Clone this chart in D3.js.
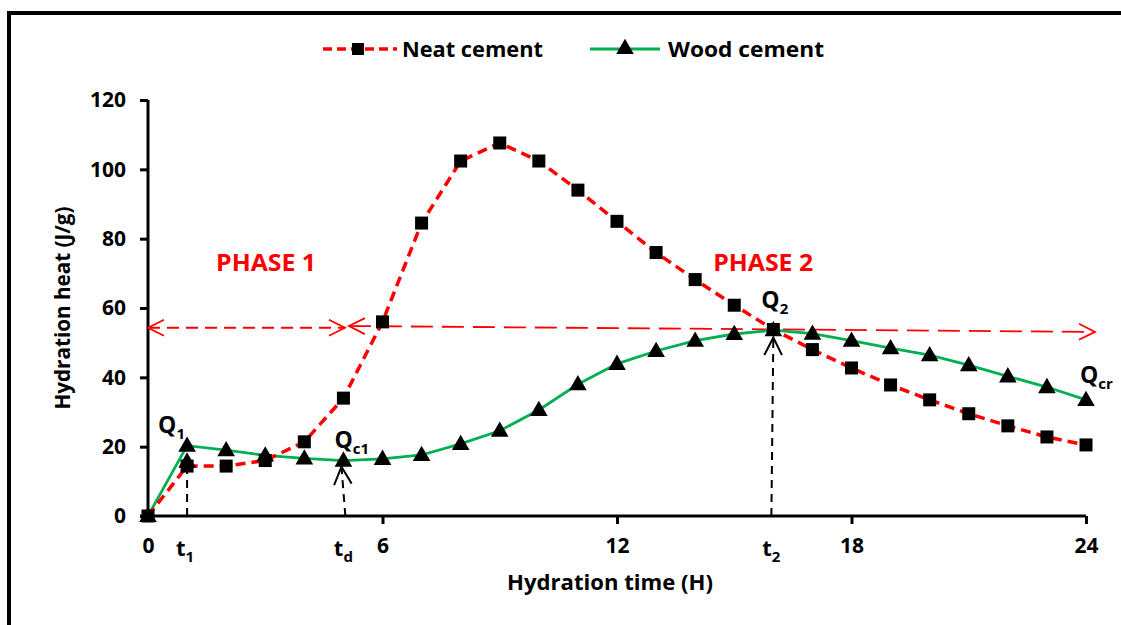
<!DOCTYPE html>
<html>
<head>
<meta charset="utf-8">
<script src="https://cdn.jsdelivr.net/npm/d3@7"></script>
<style>
  html, body { margin: 0; padding: 0; background: #fff; }
  svg { display: block; }
  text { font-family: "Open Sans", "DejaVu Sans", sans-serif; font-weight: 700; }
</style>
</head>
<body>
<svg id="chart" width="1121" height="625"></svg>
<script>
// ---- Data ----
const hours = [0,1,2,3,4,5,6,7,8,9,10,11,12,13,14,15,16,17,18,19,20,21,22,23,24];
const neatCement = [0,14.4,14.4,16,21.4,34,56,84.5,102.4,107.6,102.4,94,85,76,68.2,60.8,53.8,48,42.7,37.8,33.5,29.5,26,22.8,20.5];
const woodCement = [0,20.3,19,17.5,16.6,16,16.5,17.6,20.8,24.6,30.6,38,43.9,47.6,50.6,52.5,53.6,52.6,50.6,48.4,46.4,43.5,40.3,37.2,33.5];
const seriesNames = ["Neat cement", "Wood cement"];
const xTicks = [0, 6, 12, 18, 24];
const yTicks = [0, 20, 40, 60, 80, 100, 120];
const timeMarks = [{t: 1, label: "t", sub: "1"}, {t: 5.05, label: "t", sub: "d"}, {t: 16, label: "t", sub: "2"}];
const phaseLabels = [{x: 3.02, y: 70.7, text: "PHASE 1"}, {x: 15.74, y: 70.7, text: "PHASE 2"}];
const qLabels = [
  {x: 1, y: 20.3, main: "Q", sub: "1", dx: -29, dy: -13},
  {x: 5, y: 16, main: "Q", sub: "c1", dx: -9, dy: -13},
  {x: 16, y: 53.6, main: "Q", sub: "2", dx: -12, dy: -22},
  {x: 24, y: 33.5, main: "Q", sub: "cr", dx: -6, dy: -17}
];
// horizontal red arrows (data coords)
const phase1Arrow = {x1: 0, y1: 54.3, x2: 5.04, y2: 54.3};
const phase2Arrow = {x1: 5.14, y1: 54.8, x2: 24.23, y2: 53.1};

// ---- Layout ----
const svg = d3.select("#chart");
const x = d3.scaleLinear().domain([0, 24]).range([148, 1086]);
const y = d3.scaleLinear().domain([0, 120]).range([516, 100]);
const RED = "#FF0000", GREEN = "#00B050";

// frame
svg.append("path").attr("d", "M9,625 V13 H1121")
  .attr("fill", "none").attr("stroke", "#000").attr("stroke-width", 4);

// axes
const yAxis = svg.append("g").attr("transform", `translate(${x(0)},0)`)
  .call(d3.axisLeft(y).tickValues(yTicks).tickSize(8).tickSizeOuter(0).tickPadding(14));
const xAxis = svg.append("g").attr("transform", `translate(0,${y(0)})`)
  .call(d3.axisBottom(x).tickValues(xTicks).tickSize(8).tickSizeOuter(0).tickPadding(14));
[yAxis, xAxis].forEach(g => {
  g.select(".domain").attr("stroke", "#000").attr("stroke-width", 3);
  g.selectAll(".tick line").attr("stroke", "#000").attr("stroke-width", 3);
  g.selectAll(".tick text").attr("fill", "#000").style("font-size", "21px").style("font-weight", 700)
    .style("font-family", '"Open Sans", sans-serif');
});
yAxis.select(".domain").attr("d", `M0,${y(120)}V${y(0)}`);
xAxis.select(".domain").attr("d", `M${x(0) - 8},0H${x(24)}`);
xAxis.selectAll(".tick").filter(d => d === 0).select("line").remove();

// axis titles
svg.append("text").attr("x", 610).attr("y", 590).attr("text-anchor", "middle")
  .style("font-size", "21px").attr("textLength", 206).attr("lengthAdjust", "spacingAndGlyphs")
  .text("Hydration time (H)");
svg.append("text").attr("transform", "translate(70,308) rotate(-90)").attr("text-anchor", "middle")
  .style("font-size", "21px").attr("textLength", 203).attr("lengthAdjust", "spacingAndGlyphs")
  .text("Hydration heat (J/g)");

// arrowhead markers
const defs = svg.append("defs");
function openHead(id, color, size) {
  defs.append("marker").attr("id", id).attr("viewBox", "0 0 20 20").attr("refX", 18).attr("refY", 10)
    .attr("markerWidth", size).attr("markerHeight", size).attr("markerUnits", "userSpaceOnUse")
    .attr("orient", "auto-start-reverse")
    .append("path").attr("d", "M2,2 L18,10 L2,18").attr("fill", "none").attr("stroke", color).attr("stroke-width", 1.8);
}
openHead("redHead", RED, 20);
openHead("blackHead", "#000", 22);

// red phase arrows
svg.append("line").attr("x1", x(phase1Arrow.x1)).attr("y1", y(phase1Arrow.y1))
  .attr("x2", x(phase1Arrow.x2)).attr("y2", y(phase1Arrow.y2))
  .attr("stroke", RED).attr("stroke-width", 1.8).attr("stroke-dasharray", "12,7")
  .attr("marker-start", "url(#redHead)").attr("marker-end", "url(#redHead)");
svg.append("line").attr("x1", x(phase2Arrow.x1)).attr("y1", y(phase2Arrow.y1))
  .attr("x2", x(phase2Arrow.x2)).attr("y2", y(phase2Arrow.y2))
  .attr("stroke", RED).attr("stroke-width", 1.8).attr("stroke-dasharray", "22,9")
  .attr("marker-start", "url(#redHead)").attr("marker-end", "url(#redHead)");

// series lines
const idx = d3.range(hours.length);
const lineNeat = d3.line().x(i => x(hours[i])).y(i => y(neatCement[i]));
const lineWood = d3.line().x(i => x(hours[i])).y(i => y(woodCement[i]));
svg.append("path").attr("d", lineWood(idx)).attr("fill", "none").attr("stroke", GREEN).attr("stroke-width", 2.8);
svg.append("path").attr("d", lineNeat(idx)).attr("fill", "none").attr("stroke", RED)
  .attr("stroke-width", 3.5).attr("stroke-dasharray", "10,6");

// time mark dashed verticals
const tri = d3.symbol().type(d3.symbolTriangle).size(135);
// t1: ends with filled triangle
svg.append("line").attr("x1", x(1)).attr("x2", x(1)).attr("y1", y(0)).attr("y2", y(16))
  .attr("stroke", "#000").attr("stroke-width", 2).attr("stroke-dasharray", "8,6");
svg.append("path").attr("d", tri()).attr("transform", `translate(${x(1)},${y(16) + 2})`).attr("fill", "#000");
// td and t2: open arrowheads
svg.append("line").attr("x1", x(5.05)).attr("x2", x(4.95)).attr("y1", y(0)).attr("y2", y(14.2))
  .attr("stroke", "#000").attr("stroke-width", 2).attr("stroke-dasharray", "8,6")
  .attr("marker-end", "url(#blackHead)");
svg.append("line").attr("x1", x(15.95)).attr("x2", x(16)).attr("y1", y(0)).attr("y2", y(51.5))
  .attr("stroke", "#000").attr("stroke-width", 2).attr("stroke-dasharray", "8,6")
  .attr("marker-end", "url(#blackHead)");

// markers
svg.append("g").selectAll("rect").data(idx).join("rect")
  .attr("x", i => x(hours[i]) - 6.5).attr("y", i => y(neatCement[i]) - 6.5)
  .attr("width", 13).attr("height", 13).attr("fill", "#000");
svg.append("g").selectAll("path").data(idx).join("path")
  .attr("d", tri()).attr("transform", i => `translate(${x(hours[i])},${y(woodCement[i]) + 1})`)
  .attr("fill", "#000");

// Q labels
qLabels.forEach(q => {
  const t = svg.append("text").attr("x", x(q.x) + q.dx).attr("y", y(q.y) + q.dy)
    .style("font-size", "23px").attr("fill", "#000");
  t.append("tspan").text(q.main);
  t.append("tspan").attr("dy", 6).style("font-size", "15px").text(q.sub);
});

// t labels below axis
timeMarks.forEach(m => {
  const t = svg.append("text").attr("x", x(m.t) - 2).attr("y", 556).attr("text-anchor", "middle")
    .style("font-size", "22px").attr("fill", "#000");
  t.append("tspan").text(m.label);
  t.append("tspan").attr("dy", 6).style("font-size", "15px").text(m.sub);
});

// phase labels
phaseLabels.forEach(p => {
  svg.append("text").attr("x", x(p.x)).attr("y", y(p.y)).attr("text-anchor", "middle")
    .attr("fill", RED).style("font-size", "24px").attr("textLength", 100)
    .attr("lengthAdjust", "spacingAndGlyphs").text(p.text);
});

// legend
const leg = svg.append("g");
leg.append("line").attr("x1", 323).attr("x2", 397).attr("y1", 49).attr("y2", 49)
  .attr("stroke", RED).attr("stroke-width", 3.5).attr("stroke-dasharray", "9,5");
leg.append("rect").attr("x", 352).attr("y", 43).attr("width", 12).attr("height", 12).attr("fill", "#000");
leg.append("text").attr("x", 402).attr("y", 57).style("font-size", "21px")
  .attr("textLength", 141).attr("lengthAdjust", "spacingAndGlyphs").text(seriesNames[0]);
leg.append("line").attr("x1", 590).attr("x2", 660).attr("y1", 49).attr("y2", 49)
  .attr("stroke", GREEN).attr("stroke-width", 3);
leg.append("path").attr("d", tri()).attr("transform", "translate(625,49)").attr("fill", "#000");
leg.append("text").attr("x", 668).attr("y", 57).style("font-size", "21px")
  .attr("textLength", 156).attr("lengthAdjust", "spacingAndGlyphs").text(seriesNames[1]);
</script>
</body>
</html>
